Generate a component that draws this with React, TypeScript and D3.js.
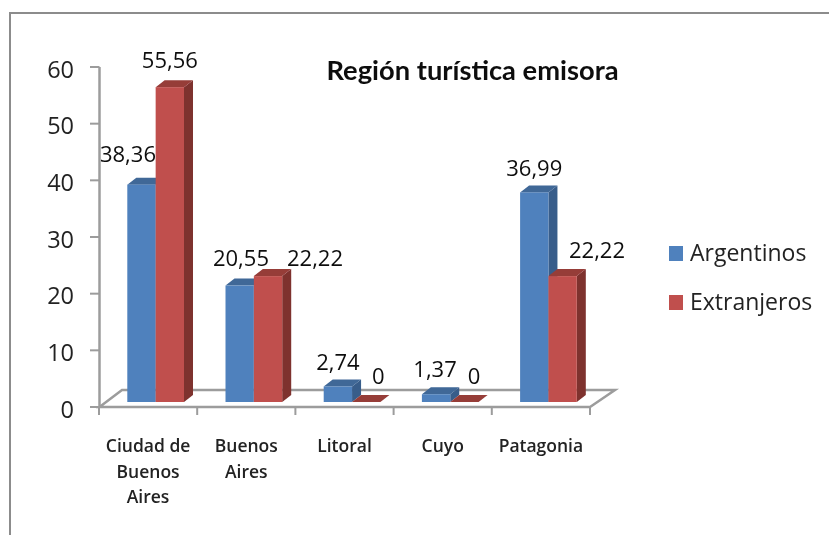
import React from "react";
import * as d3 from "d3";

const categories = [["Ciudad de", "Buenos", "Aires"], ["Buenos", "Aires"], ["Litoral"], ["Cuyo"], ["Patagonia"]];
const seriesNames = ["Argentinos", "Extranjeros"];
const argentinos = [38.36, 20.55, 2.74, 1.37, 36.99];
const extranjeros = [55.56, 22.22, 0, 0, 22.22];
const yTicks = [0, 10, 20, 30, 40, 50, 60];

const front = ["#4F81BD", "#C0504D"];
const side = ["#385D8A", "#7E302E"];
const top = ["#3F6797", "#963C39"];
const axisColor = "#9c9c9c";
const font = "'Open Sans', 'Noto Sans', sans-serif";

const width = 829;
const height = 535;
const depthX = 9;
const depthY = 7;

const x0 = d3.scaleBand<number>().domain(d3.range(categories.length)).range([99, 590]);
// bars sit toward the right of their slot, as in the pseudo-3d plot
const x1 = d3.scaleBand<number>().domain([0, 1]).range([28.3, 85]);
const y = d3.scaleLinear().domain([0, 60]).range([407, 67]);
const floorShift = 5; // bars stand a little behind the front edge of the floor

const label = (v: number) => String(v).replace(".", ",");

const values = [argentinos, extranjeros];

export default function App() {
  const bars = seriesNames.flatMap((_, s) =>
    categories.map((_c, c) => ({ s, c, v: values[s][c] }))
  );
  // data labels are hand placed in the original, nudged per bar
  const labelOffsets = [
    [[-13.5, -22.6], [0, -19]],
    [[1.3, -19.5], [47, -10]],
    [[0, -16.5], [12, -18]],
    [[-1, -17], [9.6, -18]],
    [[0, -16.4], [34.4, -18]],
  ];

  return (
    <svg width={width} height={height} style={{ position: "absolute", left: 0, top: 0 }}>
      <defs>
        <filter id="soft" x="0" y="0" width="100%" height="100%">
          <feGaussianBlur stdDeviation={0.45} />
        </filter>
      </defs>
      <rect width={width} height={height} fill="#fff" />
      <g filter="url(#soft)">
        <path d={`M9.5,${height} L9.5,12.5 L${width},12.5`} fill="none" stroke="#8c8c8c" strokeWidth={3} />

        {/* floor */}
        <path d="M99.5,407 L122,390 L615,390 L590,407 Z" fill="none" stroke={axisColor} strokeWidth={2.5} />
        <line x1={99.5} x2={99.5} y1={y(60)} y2={y(0)} stroke={axisColor} strokeWidth={2.5} />
        {yTicks.map((t) => (
          <g key={t}>
            <line x1={90} x2={99.5} y1={y(t)} y2={y(t)} stroke={axisColor} strokeWidth={2} />
            <text x={74} y={y(t) + 10.5} textAnchor="end" fontFamily={font} fontSize={23.5} fill="#222">
              {t}
            </text>
          </g>
        ))}
        {d3.range(categories.length + 1).map((i) => {
          const tx = i < categories.length ? x0(i)! : x0.range()[1];
          return <line key={i} x1={tx} x2={tx} y1={407} y2={415} stroke={axisColor} strokeWidth={2} />;
        })}

        {bars.map(({ s, c, v }) => {
          const bx = x0(c)! + x1(s)!;
          const bw = x1.bandwidth();
          const by = y(v) - floorShift;
          const base = y(0) - floorShift;
          return (
            <g key={`${s}-${c}`}>
              <path
                d={`M${bx + bw},${by} L${bx + bw + depthX},${by - depthY} L${bx + bw + depthX},${base - depthY} L${bx + bw},${base} Z`}
                fill={side[s]}
              />
              <path
                d={`M${bx},${by} L${bx + depthX},${by - depthY} L${bx + bw + depthX},${by - depthY} L${bx + bw},${by} Z`}
                fill={top[s]}
              />
              <rect x={bx} y={by} width={bw} height={base - by} fill={front[s]} />
            </g>
          );
        })}

        {bars.map(({ s, c, v }) => {
          const bx = x0(c)! + x1(s)!;
          const [dx, dy] = labelOffsets[c][s];
          return (
            <text
              key={`l-${s}-${c}`}
              x={bx + x1.bandwidth() / 2 + dx}
              y={y(v) - floorShift + dy}
              textAnchor="middle"
              fontFamily={font}
              fontSize={22}
              fill="#111"
            >
              {label(v)}
            </text>
          );
        })}

        {categories.map((lines, c) =>
          lines.map((ln, i) => (
            <text
              key={`${c}-${i}`}
              x={x0(c)! + x0.bandwidth() / 2}
              y={452 + i * 25.5}
              textAnchor="middle"
              fontFamily={font}
              fontSize={17.5}
              fontWeight={600}
              fill="#222"
            >
              {ln}
            </text>
          ))
        )}

        <text x={472.5} y={80} textAnchor="middle" fontFamily="Lato, 'Open Sans', sans-serif" fontSize={27.3} fontWeight={700} fill="#111">
          Región turística emisora
        </text>

        {seriesNames.map((name, s) => (
          <g key={name} transform={`translate(669,${246 + s * 49})`}>
            <rect width={14} height={15} fill={front[s]} />
            <text x={21} y={15} fontFamily={font} fontSize={23} fill="#222">
              {name}
            </text>
          </g>
        ))}
      </g>
    </svg>
  );
}
